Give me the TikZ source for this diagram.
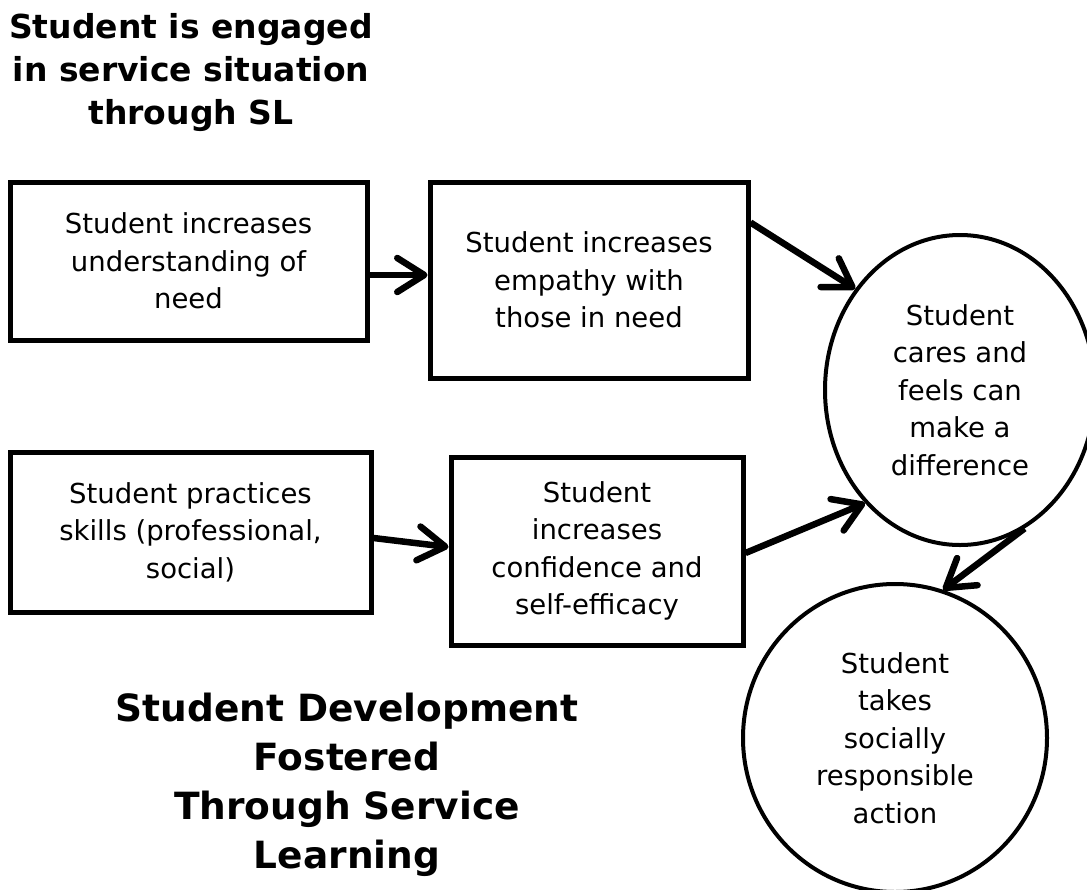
\documentclass[tikz,border=0pt]{standalone}
\usepackage{fontspec}
\setmainfont{DejaVu Sans}
\usetikzlibrary{shapes.geometric,arrows.meta}

\tikzset{
  box/.style={draw, line width=5pt, rectangle, align=center, inner sep=0pt,
    font=\fontsize{27.5}{37.5}\selectfont},
  bubble/.style={draw, line width=4pt, ellipse, align=center, inner sep=0pt,
    font=\fontsize{27.5}{37.5}\selectfont},
  heading/.style={align=center, font=\bfseries\fontsize{33}{43}\selectfont},
  arr/.style={line width=6.5pt, -{Straight Barb[length=27pt,width=34pt,round]}},
}

\begin{document}
\begin{tikzpicture}[x=1pt,y=-1pt]
\useasboundingbox (0,0) rectangle (1087,889);

% headings
\node[heading] (title) at (191,73) {Student is engaged\\in service situation\\through SL};
\node[heading, font=\bfseries\fontsize{37.5}{49}\selectfont] (caption) at (347,785)
  {Student Development\\Fostered\\Through Service\\Learning};

% boxes
\node[box, minimum width=357, minimum height=158] (b1) at (188.5,261)
  {Student increases\\understanding of\\need};
\node[box, minimum width=318, minimum height=196] (b2) at (589,280)
  {Student increases\\empathy with\\those in need};
\node[box, minimum width=361, minimum height=160] (b3) at (190.5,532)
  {Student practices\\skills (professional,\\social)};
\node[box, minimum width=292, minimum height=188] (b4) at (597,551)
  {Student\\increases\\confidence and\\self-efficacy};

% circles
\node[bubble, minimum width=270, minimum height=310] (c1) at (960,390)
  {Student\\cares and\\feels can\\make a\\difference};
\node[bubble, minimum width=304, minimum height=308] (c2) at (895,738)
  {Student\\takes\\socially\\responsible\\action};

% arrows
\draw[arr] ([yshift=-14pt]b1.east) -- ([yshift=5pt]b2.west);
\draw[arr] ([yshift=-43pt]b2.north east) -- (c1.136);
\draw[arr] ([yshift=-6pt]b3.east) -- ([yshift=4pt]b4.west);
\draw[arr] ([yshift=-2pt]b4.east) -- (c1.230);
\draw[arr] (c1.295) -- (c2.72);
\end{tikzpicture}
\end{document}
